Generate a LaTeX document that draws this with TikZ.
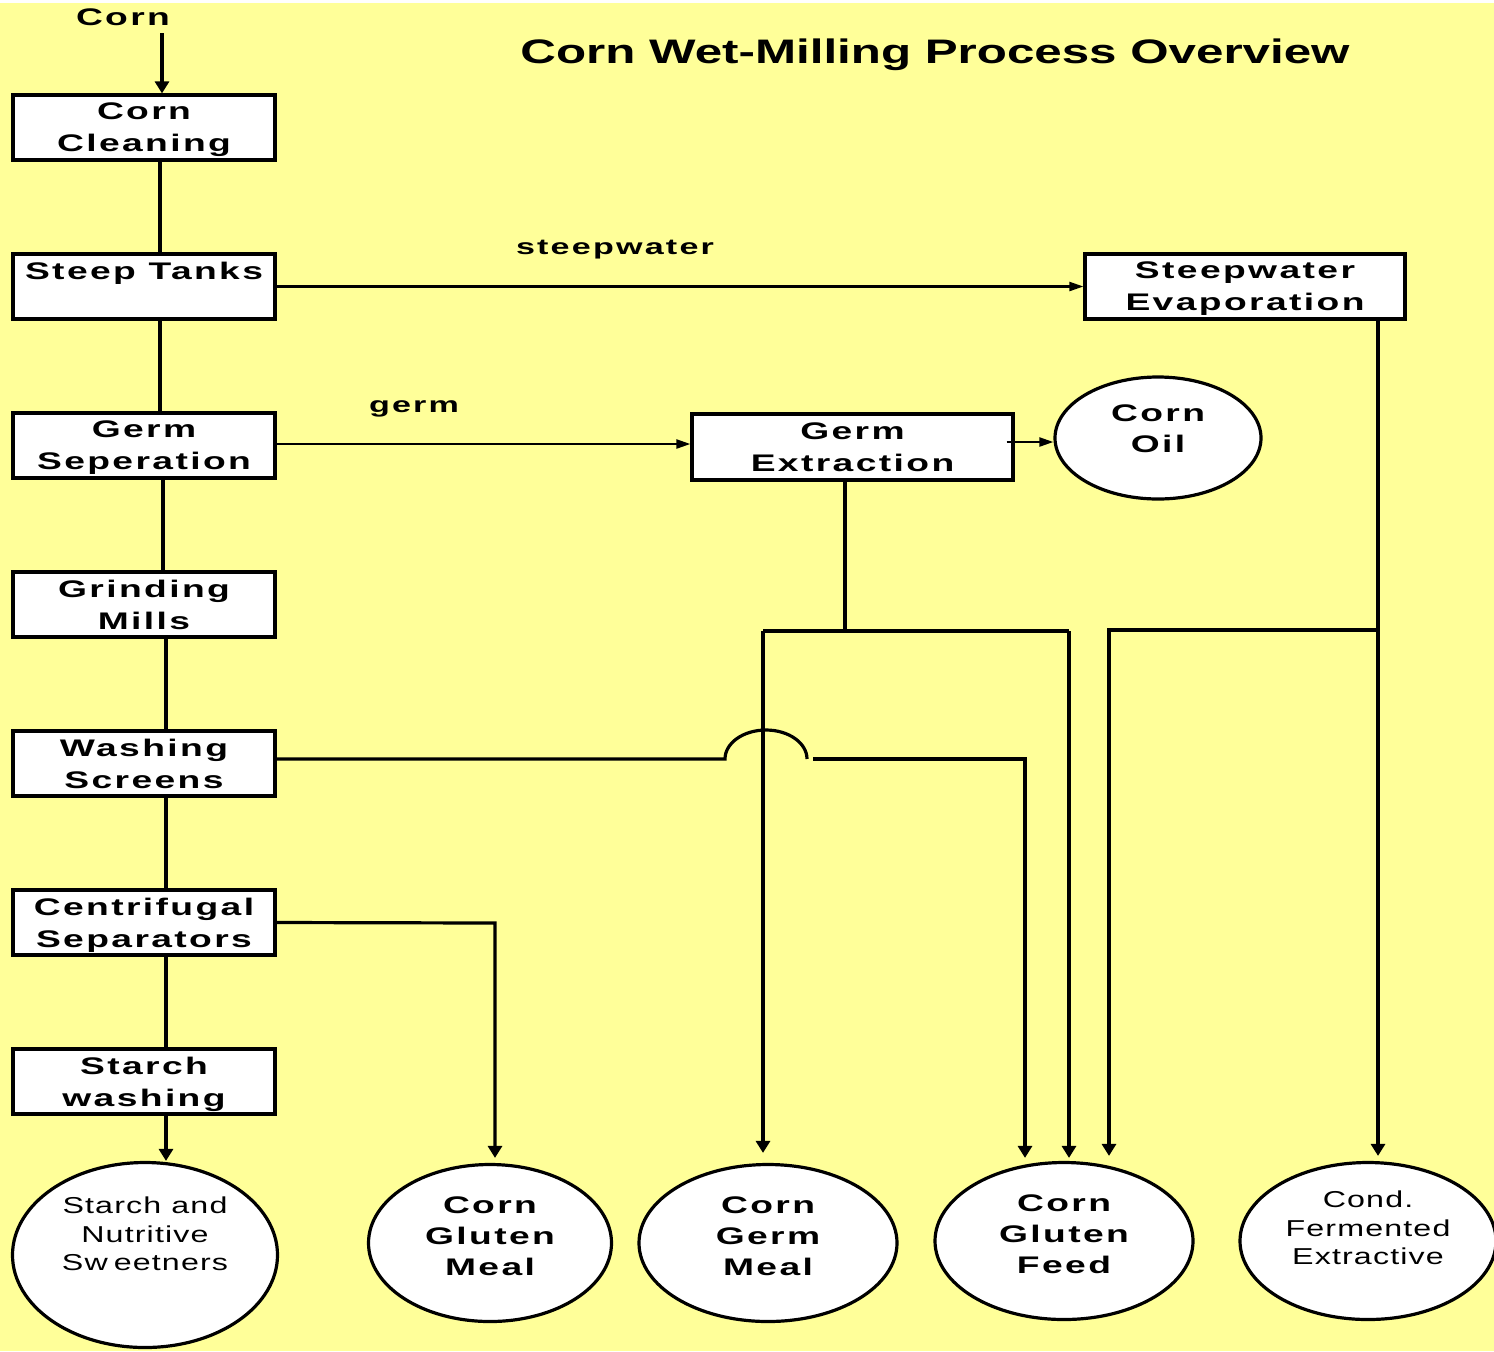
\documentclass[tikz,border=0pt]{standalone}
\usepackage{fontspec}
\setmainfont{Liberation Sans}[FakeStretch=1.55, LetterSpace=10]
\newfontfamily\titlefont{Liberation Sans}[FakeStretch=1.45]
\newfontfamily\plainfont{Liberation Sans}[FakeStretch=1.4, LetterSpace=5]
\usetikzlibrary{arrows.meta, shapes.geometric}
\definecolor{pageyellow}{HTML}{FFFF99}

\begin{document}
\begin{tikzpicture}[x=0.5pt, y=-0.5pt,
    stepbox/.style={draw, fill=white, line width=1.6pt, minimum width=131pt, minimum height=32.5pt,
      inner sep=0pt, align=center, text depth=0pt, font=\bfseries\fontsize{12}{16}\selectfont},
    product/.style={draw, fill=white, ellipse, line width=1.6pt, inner sep=0pt},
    boldtext/.style={align=center, font=\bfseries\fontsize{12}{15.5}\selectfont},
    plaintext/.style={align=center, font=\plainfont\fontsize{11.5}{14.25}\selectfont},
    pipe/.style={line width=1.6pt},
    flow/.style={pipe, -{Triangle[length=6pt, width=7pt]}},
    thinflow/.style={line width=1.1pt, -{Triangle[length=7pt, width=4.5pt]}}]
  \useasboundingbox (0,0) rectangle (1494,1351);
  \fill[pageyellow] (0,3) rectangle (1494,1351);

  \node[font=\titlefont\bfseries\fontsize{17}{20}\selectfont] (title) at (935,55) {Corn Wet-Milling Process Overview};
  \node[font=\bfseries\fontsize{12}{14}\selectfont] (corn) at (123,17) {Corn};
  \coordinate (cornin) at (162,33);

  \node[stepbox] (clean)   at (144,127.5)  {Corn\\Cleaning};
  \node[stepbox] (steep)   at (144,286.5)  {Steep Tanks\\\phantom{g}};
  \node[stepbox] (germsep) at (144,445.5)  {Germ\\Seperation};
  \node[stepbox] (grind)   at (144,604.5)  {Grinding\\Mills};
  \node[stepbox] (wash)    at (144,763.5)  {Washing\\Screens};
  \node[stepbox] (centri)  at (144,922.5)  {Centrifugal\\Separators};
  \node[stepbox] (starch)  at (144,1081.5) {Starch\\washing};
  \node[stepbox, minimum width=160pt] (evap) at (1245,286.5) {Steepwater\\Evaporation};
  \node[stepbox, minimum width=160.5pt, minimum height=33pt] (extract) at (852.5,447) {Germ\\Extraction};

  \node[product, minimum width=103pt, minimum height=61pt,
    label={[boldtext, yshift=4.75pt]center:Corn\\Oil}] (oil) at (1158,438) {};
  \node[product, minimum width=132.5pt, minimum height=92.5pt,
    label={[plaintext, yshift=10.5pt]center:Starch and\\Nutritive\\Sw\kern3pt eetners}] (sweet) at (145,1255) {};
  \node[product, minimum width=121.5pt, minimum height=78.5pt,
    label={[boldtext, yshift=3.5pt]center:Corn\\Gluten\\Meal}] (cgmeal) at (490,1243) {};
  \node[product, minimum width=129pt, minimum height=78.5pt,
    label={[boldtext, yshift=3.5pt]center:Corn\\Germ\\Meal}] (germmeal) at (768,1243) {};
  \node[product, minimum width=129pt, minimum height=78.5pt,
    label={[boldtext, yshift=3.5pt]center:Corn\\Gluten\\Feed}] (feed) at (1064,1241) {};
  \node[product, minimum width=128pt, minimum height=78.5pt,
    label={[plaintext, yshift=6.5pt]center:Cond.\\Fermented\\Extractive}] (cfe) at (1368,1241) {};

  \node[font=\bfseries\fontsize{11}{13}\selectfont] (swlabel) at (615,250) {steepwater};
  \node[font=\bfseries\fontsize{11}{13}\selectfont] (germlabel) at (414,409) {germ};

  \coordinate (germjoin) at (845,631);
  \coordinate (mealturn) at (763,631);
  \coordinate (feedturn) at (1069,631);
  \coordinate (swjoin) at (1378,630);
  \coordinate (swturn) at (1109,630);
  \coordinate (gmturn) at (495,923);
  \coordinate (hopL) at (725,759);
  \coordinate (hopR) at (813,759);
  \coordinate (washturn) at (1025,759);

  \draw[flow, line width=2pt] (cornin) -- (cornin |- clean.north);
  \foreach \a/\b/\s in {clean/steep/8, steep/germsep/8, germsep/grind/9.5,
      grind/wash/11, wash/centri/11, centri/starch/11}
    \draw[pipe] ([xshift=\s pt]\a.south) -- ([xshift=\s pt]\b.north);
  \draw[flow, line width=2pt] ([xshift=11pt]starch.south) -- ([xshift=10.5pt]sweet.north);

  \draw[thinflow] (steep.east) -- (evap.west);
  \draw[thinflow] ([yshift=0.75pt]germsep.east) -- ([yshift=1.5pt]extract.west);
  \draw[thinflow] ([xshift=-4pt, yshift=2.5pt]extract.east) -- ([yshift=-2pt]oil.west);

  \draw[pipe] ([xshift=-3.75pt]extract.south) -- (germjoin);
  \draw[pipe] (mealturn) -- (feedturn);
  \draw[flow] (mealturn) -- ([xshift=-2.5pt, yshift=5pt]germmeal.north);
  \draw[flow] (feedturn) -- ([xshift=2.5pt, yshift=1.5pt]feed.north);

  \draw[flow] ([xshift=66.5pt]evap.south) -- ([xshift=5pt, yshift=2.5pt]cfe.north);
  \draw[flow] (swjoin) -- (swturn) -- ([xshift=22.5pt, yshift=2.5pt]feed.north);

  \draw[flow] (centri.east) -- (gmturn) -- ([xshift=2.5pt, yshift=2.5pt]cgmeal.north);

  \draw[pipe] ([yshift=2.25pt]wash.east) -- (hopL)
    arc[start angle=180, end angle=0, x radius=20.5pt, y radius=14.5pt];
  \draw[flow] (hopR) -- (washturn) -- ([xshift=-19.5pt, yshift=1.5pt]feed.north);
\end{tikzpicture}
\end{document}
